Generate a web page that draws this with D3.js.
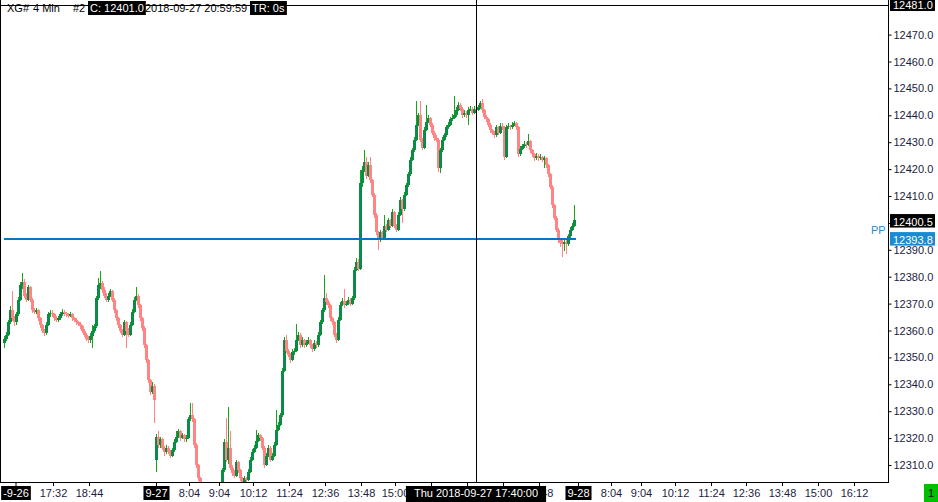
<!DOCTYPE html>
<html><head><meta charset="utf-8">
<script src="https://cdn.jsdelivr.net/npm/d3@7"></script>
<style>body{margin:0;background:#fff}svg{display:block;font-family:"Liberation Sans",Arial,sans-serif}</style>
</head><body><svg id="c" width="938" height="502"></svg>
<script>
const open=[12355.5,12357.0,12358.5,12363.0,12367.5,12364.5,12363.0,12366.0,12371.5,12377.0,
12378.0,12373.0,12371.5,12376.0,12371.5,12367.5,12367.0,12367.5,12364.5,12362.0,
12360.0,12359.0,12362.0,12366.0,12366.5,12366.0,12364.5,12364.0,12364.5,12366.0,
12367.0,12366.5,12366.0,12365.5,12366.0,12364.5,12364.0,12363.0,12362.5,12361.5,
12360.0,12358.5,12357.0,12356.5,12358.0,12360.0,12361.5,12372.0,12377.0,12377.5,
12375.0,12373.0,12371.5,12373.0,12374.5,12371.5,12367.5,12364.5,12362.0,12360.0,
12358.5,12363.0,12360.0,12358.5,12362.0,12367.0,12371.5,12373.0,12369.5,12364.5,
12361.0,12354.5,12349.0,12341.5,12337.0,12339.5,12312.0,12320.5,12317.5,12319.5,
12316.5,12315.0,12316.5,12315.0,12313.5,12315.5,12318.5,12320.5,12322.5,12320.0,
12321.0,12319.5,12320.0,12327.0,12328.5,12327.0,12317.5,12310.0,12305.0,12302.5,
12300.5,12299.0,12300.0,12301.5,12299.0,12297.5,12299.0,12300.5,12300.0,12302.5,
12308.0,12318.5,12312.0,12316.5,12309.0,12307.0,12306.0,12311.0,12308.0,12305.0,
12303.5,12305.0,12304.5,12307.5,12312.0,12315.0,12316.5,12319.0,12321.0,12320.0,
12316.5,12310.0,12313.5,12316.5,12312.0,12313.5,12317.5,12323.0,12325.0,12328.5,
12345.0,12356.5,12352.5,12351.0,12349.0,12352.0,12352.5,12356.5,12358.5,12354.5,
12356.5,12354.5,12355.5,12356.5,12354.5,12353.0,12355.5,12354.5,12358.5,12363.0,
12367.5,12372.0,12370.5,12369.5,12364.5,12363.0,12358.5,12356.5,12364.0,12369.5,
12371.0,12369.5,12370.0,12371.5,12370.0,12372.0,12382.5,12385.5,12383.0,12415.0,
12419.5,12422.5,12417.5,12421.5,12416.0,12410.5,12403.0,12396.5,12393.5,12396.5,
12394.5,12399.0,12397.5,12401.0,12399.0,12404.0,12399.0,12397.5,12403.0,12408.5,
12405.0,12410.5,12414.0,12418.0,12423.5,12427.0,12431.0,12436.5,12440.0,12431.0,
12428.0,12434.5,12437.5,12439.0,12436.5,12433.5,12431.5,12431.0,12420.5,12427.0,
12431.0,12432.5,12435.5,12436.5,12438.5,12439.0,12440.0,12442.0,12444.0,12442.5,
12440.0,12441.0,12440.0,12442.0,12442.5,12441.0,12442.5,12442.0,12443.0,12444.5,
12442.0,12439.5,12438.5,12436.5,12434.5,12433.5,12432.5,12435.5,12433.5,12436.0,
12435.5,12424.5,12435.5,12436.0,12435.5,12436.5,12437.0,12435.5,12425.5,12427.5,
12428.5,12429.5,12429.0,12430.5,12427.0,12425.5,12424.0,12425.0,12424.0,12424.5,
12423.5,12424.0,12421.5,12418.0,12413.5,12406.5,12402.0,12397.5,12393.5,12392.5,
12392.0,12393.0,12392.0,12395.0,12397.5,12399.0];
const high=[12358.0,12359.5,12364.0,12369.0,12374.5,12365.5,12367.0,12372.5,12378.0,12381.5,
12379.0,12374.0,12377.0,12376.5,12372.0,12368.5,12368.5,12368.0,12365.0,12362.5,
12360.5,12363.0,12367.0,12367.5,12367.5,12366.5,12365.5,12365.5,12367.0,12368.0,
12367.5,12367.0,12366.5,12367.0,12366.5,12365.0,12364.5,12363.5,12363.0,12362.0,
12360.5,12359.0,12358.0,12359.0,12362.0,12362.5,12373.0,12379.5,12382.0,12378.5,
12376.0,12374.0,12374.0,12375.5,12375.0,12372.0,12368.0,12365.0,12362.5,12360.5,
12364.0,12363.5,12361.0,12363.0,12368.0,12372.5,12376.0,12373.5,12370.0,12365.0,
12361.5,12355.0,12349.5,12342.0,12341.0,12340.0,12321.5,12322.5,12320.5,12320.0,
12317.0,12317.5,12317.0,12315.5,12316.5,12319.5,12322.5,12323.5,12323.0,12322.0,
12321.5,12321.0,12328.0,12333.0,12333.0,12327.5,12318.0,12310.5,12305.5,12303.0,
12301.0,12301.0,12302.5,12302.0,12299.5,12300.0,12301.5,12301.5,12303.5,12309.0,
12319.5,12327.5,12331.5,12322.5,12310.0,12308.0,12312.0,12311.5,12308.5,12305.5,
12306.0,12305.5,12308.5,12313.0,12316.0,12317.5,12323.0,12322.0,12321.5,12320.5,
12317.0,12314.5,12317.5,12317.0,12314.5,12318.5,12330.5,12326.0,12329.5,12346.0,
12357.5,12358.5,12353.0,12351.5,12353.0,12353.5,12362.5,12359.5,12359.0,12357.5,
12357.0,12356.5,12357.5,12357.0,12355.0,12356.5,12356.0,12359.5,12364.0,12368.5,
12380.5,12374.0,12371.5,12370.0,12365.0,12363.5,12359.0,12365.0,12370.5,12372.0,
12375.5,12371.0,12372.5,12372.0,12373.0,12383.5,12387.0,12386.5,12419.5,12421.0,
12427.0,12424.5,12422.5,12424.5,12416.5,12411.0,12403.5,12397.0,12397.5,12397.0,
12403.0,12399.5,12402.0,12401.5,12405.0,12404.5,12399.5,12404.0,12409.5,12409.0,
12411.5,12415.0,12419.0,12424.5,12428.0,12432.0,12445.5,12441.0,12445.5,12431.5,
12435.5,12444.0,12440.0,12439.5,12437.0,12434.0,12432.5,12431.5,12428.0,12432.0,
12433.5,12436.5,12437.5,12439.5,12440.5,12447.0,12443.0,12445.0,12444.5,12443.0,
12442.0,12441.5,12443.0,12443.5,12443.0,12443.5,12443.5,12444.0,12445.5,12446.0,
12442.5,12440.0,12439.0,12437.0,12435.0,12434.0,12436.5,12436.0,12437.0,12437.0,
12436.0,12436.5,12437.0,12436.5,12437.5,12438.0,12437.5,12436.0,12428.5,12429.5,
12430.5,12430.0,12433.0,12431.0,12427.5,12426.0,12426.0,12425.5,12425.5,12425.0,
12425.0,12424.5,12422.0,12418.5,12414.0,12407.0,12402.5,12398.0,12394.0,12394.0,
12394.0,12393.5,12396.0,12398.5,12400.0,12406.5];
const low=[12353.5,12356.0,12358.0,12362.5,12363.5,12361.5,12362.0,12365.5,12371.0,12375.5,
12372.0,12370.5,12371.0,12370.5,12366.5,12366.0,12366.0,12363.5,12361.0,12359.0,
12358.0,12358.5,12361.5,12365.0,12365.0,12363.5,12363.0,12363.0,12364.0,12365.5,
12365.5,12365.0,12364.5,12365.0,12363.5,12363.0,12362.0,12361.5,12360.5,12359.0,
12357.5,12356.0,12355.5,12355.5,12353.5,12359.0,12361.0,12371.5,12375.5,12374.0,
12372.0,12370.5,12370.5,12372.5,12370.5,12366.5,12363.5,12361.0,12359.0,12357.5,
12358.0,12353.5,12357.5,12358.0,12361.5,12366.5,12371.0,12368.5,12363.5,12360.0,
12353.5,12348.0,12340.5,12336.0,12336.5,12325.5,12307.5,12316.5,12316.5,12315.5,
12313.5,12314.0,12314.0,12312.5,12313.0,12315.0,12318.0,12320.0,12319.0,12319.5,
12318.5,12318.5,12319.5,12326.5,12326.0,12316.5,12309.0,12304.0,12301.5,12299.5,
12298.0,12298.5,12299.5,12298.0,12296.5,12297.0,12298.5,12299.0,12299.5,12302.0,
12307.5,12311.0,12310.5,12308.0,12306.0,12305.0,12305.5,12307.0,12304.0,12302.5,
12303.0,12303.5,12304.0,12307.0,12311.5,12314.5,12316.0,12318.5,12319.0,12315.5,
12309.0,12309.5,12313.0,12311.0,12311.5,12313.0,12317.0,12322.5,12324.5,12328.0,
12344.5,12351.5,12350.0,12348.0,12348.5,12351.0,12352.0,12356.0,12353.5,12354.0,
12353.5,12354.0,12355.0,12353.5,12352.0,12352.5,12353.5,12354.0,12358.0,12362.5,
12367.0,12369.5,12368.5,12363.5,12362.0,12357.5,12355.5,12356.0,12363.5,12369.0,
12368.5,12369.0,12369.5,12369.0,12369.5,12371.5,12382.0,12382.0,12382.5,12413.5,
12419.0,12416.5,12417.0,12415.0,12409.5,12402.0,12395.5,12390.0,12393.0,12393.5,
12394.0,12396.5,12397.0,12398.0,12398.5,12398.0,12396.5,12397.0,12402.5,12400.0,
12404.5,12410.0,12413.5,12417.5,12423.0,12426.5,12430.5,12436.0,12430.0,12427.0,
12427.5,12434.0,12437.0,12435.5,12432.5,12430.5,12430.0,12419.0,12418.5,12426.5,
12430.5,12432.0,12435.0,12436.0,12438.0,12438.5,12439.5,12441.5,12441.5,12439.0,
12439.5,12439.0,12436.5,12441.5,12440.0,12440.5,12441.0,12441.5,12442.5,12441.0,
12438.5,12437.5,12435.5,12433.5,12432.5,12431.5,12432.0,12432.5,12433.0,12434.5,
12423.5,12424.0,12435.0,12434.5,12435.0,12436.0,12434.5,12424.5,12425.0,12427.0,
12428.0,12428.0,12428.5,12426.0,12424.5,12423.0,12423.5,12423.0,12423.5,12422.5,
12420.5,12420.5,12417.0,12412.5,12405.5,12401.0,12396.5,12392.5,12391.0,12387.5,
12389.5,12388.5,12391.5,12394.5,12397.0,12398.5];
const close=[12357.0,12358.5,12363.0,12367.5,12364.5,12363.0,12366.0,12371.5,12377.0,12378.0,
12373.0,12371.5,12376.0,12371.5,12367.5,12367.0,12367.5,12364.5,12362.0,12360.0,
12359.0,12362.0,12366.0,12366.5,12366.0,12364.5,12364.0,12364.5,12366.0,12367.0,
12366.5,12366.0,12365.5,12366.0,12364.5,12364.0,12363.0,12362.5,12361.5,12360.0,
12358.5,12357.0,12356.5,12358.0,12360.0,12361.5,12372.0,12377.0,12377.5,12375.0,
12373.0,12371.5,12373.0,12374.5,12371.5,12367.5,12364.5,12362.0,12360.0,12358.5,
12363.0,12360.0,12358.5,12362.0,12367.0,12371.5,12373.0,12369.5,12364.5,12361.0,
12354.5,12349.0,12341.5,12337.0,12339.5,12334.0,12320.5,12317.5,12319.5,12316.5,
12315.0,12316.5,12315.0,12313.5,12315.5,12318.5,12320.5,12322.5,12320.0,12321.0,
12319.5,12320.0,12327.0,12328.5,12327.0,12317.5,12310.0,12305.0,12302.5,12300.5,
12299.0,12300.0,12301.5,12299.0,12297.5,12299.0,12300.5,12300.0,12302.5,12308.0,
12318.5,12312.0,12316.5,12309.0,12307.0,12306.0,12311.0,12308.0,12305.0,12303.5,
12305.0,12304.5,12307.5,12312.0,12315.0,12316.5,12319.0,12321.0,12320.0,12316.5,
12310.0,12313.5,12316.5,12312.0,12313.5,12317.5,12323.0,12325.0,12328.5,12345.0,
12356.5,12352.5,12351.0,12349.0,12352.0,12352.5,12356.5,12358.5,12354.5,12356.5,
12354.5,12355.5,12356.5,12354.5,12353.0,12355.5,12354.5,12358.5,12363.0,12367.5,
12372.0,12370.5,12369.5,12364.5,12363.0,12358.5,12356.5,12364.0,12369.5,12371.0,
12369.5,12370.0,12371.5,12370.0,12372.0,12382.5,12385.5,12383.0,12415.0,12419.5,
12422.5,12417.5,12421.5,12416.0,12410.5,12403.0,12396.5,12393.5,12396.5,12394.5,
12399.0,12397.5,12401.0,12399.0,12404.0,12399.0,12397.5,12403.0,12408.5,12405.0,
12410.5,12414.0,12418.0,12423.5,12427.0,12431.0,12436.5,12440.0,12431.0,12428.0,
12434.5,12437.5,12439.0,12436.5,12433.5,12431.5,12431.0,12420.5,12427.0,12431.0,
12432.5,12435.5,12436.5,12438.5,12439.0,12440.0,12442.0,12444.0,12442.5,12440.0,
12441.0,12440.0,12442.0,12442.5,12441.0,12442.5,12442.0,12443.0,12444.5,12442.0,
12439.5,12438.5,12436.5,12434.5,12433.5,12432.5,12435.5,12433.5,12436.0,12435.5,
12424.5,12435.5,12436.0,12435.5,12436.5,12437.0,12435.5,12425.5,12427.5,12428.5,
12429.5,12429.0,12430.5,12427.0,12425.5,12424.0,12425.0,12424.0,12424.5,12423.5,
12424.0,12421.5,12418.0,12413.5,12406.5,12402.0,12397.5,12393.5,12392.5,12392.0,
12393.0,12392.0,12395.0,12397.5,12399.0,12401.0];

const priceTicks=[12310,12320,12330,12340,12350,12360,12370,12380,12390,12400,12410,12420,12430,12440,12450,12460,12470];
const timeTickIdx=[5.75,24.5,42.5,76,92.5,107.5,124.5,142.5,160.5,178.5,195.5,213.5,231.5,249.5,267.5,287,303.5,318.5,335.5,353.5,371,389,407,425];
// labels fully covered by the crosshair time label are left empty (only their tick marks show)
const timeTickText=["-9-26","17:32","18:44","9-27","8:04","9:04","10:12","11:24","12:36","13:48","15:00","","","","19:48","9-28","8:04","9:04","10:12","11:24","12:36","13:48","15:00","16:12"];
const dateTicks=["-9-26","9-27","9-28"];
const pivotPrice=12393.8, lastPrice=12400.5, crossPrice=12481.0, crossIdx=236;
const crossTimeText="Thu 2018-09-27 17:40:00";
const headerParts=[{t:"XG#",bg:false,x:7},{t:"4 Min",bg:false,x:33},{t:"#2",bg:false,x:73},{t:"C: 12401.0",bg:true,x:90},{t:"2018-09-27 20:59:59",bg:false,x:145},{t:"TR: 0s",bg:true,x:252}];
const slotCount=442;

const svg=d3.select("#c");
const W=938,H=502, plotR=888, plotB=482;
const x=d3.scaleLinear().domain([0,slotCount]).range([4,plotR]);
const y=d3.scaleLinear().domain([12310,12470]).range([465,34.6]);
const bars=close.map((c,i)=>({i,o:open[i],h:Math.max(high[i],open[i],c),l:Math.min(low[i],open[i],c),c}));

svg.append("rect").attr("width",W).attr("height",H).attr("fill","#fff");
svg.append("defs").append("clipPath").attr("id","clip").append("rect").attr("x",1).attr("y",0).attr("width",plotR-1).attr("height",plotB);

const upBody="#0a8c48", upWick="#18a418", dn="#ff8484";
const pg=svg.append("g").attr("clip-path","url(#clip)").attr("shape-rendering","crispEdges");
const cg=pg.selectAll("g.c").data(bars).join("g");
cg.append("rect").attr("x",d=>Math.round(x(d.i))).attr("width",1)
  .attr("y",d=>y(d.h)).attr("height",d=>Math.max(1,y(d.l)-y(d.h)))
  .attr("fill",d=>d.c>=d.o?upWick:dn);
cg.append("rect").attr("x",d=>Math.round(x(d.i))-1).attr("width",3)
  .attr("y",d=>y(Math.max(d.o,d.c))).attr("height",d=>Math.max(1,Math.abs(y(d.o)-y(d.c))))
  .attr("fill",d=>d.c>=d.o?upBody:dn);

pg.append("line").attr("x1",x(0)).attr("x2",x(bars.length-1)+2)
  .attr("y1",y(pivotPrice)-0.6).attr("y2",y(pivotPrice)-0.6)
  .attr("stroke","#0b74bd").attr("stroke-width",2);

svg.append("line").attr("x1",Math.round(x(crossIdx))+0.5).attr("x2",Math.round(x(crossIdx))+0.5).attr("y1",0).attr("y2",plotB)
  .attr("stroke","#000").attr("stroke-width",1);
svg.append("line").attr("x1",0).attr("x2",plotR).attr("y1",Math.round(y(crossPrice))+0.5).attr("y2",Math.round(y(crossPrice))+0.5)
  .attr("stroke","#000").attr("stroke-width",1);

const fr=svg.append("g").attr("stroke","#000").attr("stroke-width",1).attr("shape-rendering","crispEdges");
fr.append("line").attr("x1",0.5).attr("x2",0.5).attr("y1",0).attr("y2",plotB);
fr.append("line").attr("x1",0).attr("x2",plotR+1).attr("y1",plotB+0.5).attr("y2",plotB+0.5);
fr.append("line").attr("x1",plotR+0.5).attr("x2",plotR+0.5).attr("y1",0).attr("y2",plotB+1);

const txtCol="#1c1c40";
const gy=svg.append("g").attr("transform",`translate(${plotR+0.5},0)`)
  .call(d3.axisRight(y).tickValues(priceTicks).tickFormat(d=>d.toFixed(1)).tickSize(3).tickPadding(2));
gy.select(".domain").remove();
gy.attr("font-size",11).attr("font-family","Liberation Sans, Arial, sans-serif");
gy.selectAll("line").attr("stroke","#000");
gy.selectAll("text").attr("fill",txtCol);

const gx=svg.append("g").attr("transform",`translate(0,${plotB})`)
  .call(d3.axisBottom(x).tickValues(timeTickIdx).tickFormat((d,i)=>timeTickText[i]).tickSize(4).tickPadding(3));
gx.select(".domain").remove();
gx.attr("font-size",11).attr("font-family","Liberation Sans, Arial, sans-serif");
gx.selectAll("line").attr("stroke","#000");
gx.selectAll("text").attr("fill",txtCol);
gx.selectAll(".tick").each(function(d,i){
  if(dateTicks.includes(timeTickText[i])){
    const t=d3.select(this).select("text").attr("fill","#fff");
    const b=t.node().getBBox();
    d3.select(this).insert("rect","text").attr("x",b.x-2).attr("y",4).attr("width",b.width+4).attr("height",14).attr("fill","#000");
  }
});

const ctg=svg.append("g");
const ctt=ctg.append("text").attr("x",x(crossIdx)).attr("y",plotB+15).attr("text-anchor","middle").attr("font-size",11).attr("fill","#fff").text(crossTimeText);
const cb=ctt.node().getBBox();
ctg.insert("rect","text").attr("x",cb.x-8).attr("y",plotB+4).attr("width",cb.width+16).attr("height",16).attr("fill","#000");

function priceLabel(v,bg,fg){
  const g=svg.append("g");
  g.append("rect").attr("x",plotR+2).attr("y",y(v)-7.5).attr("width",45).attr("height",13.5).attr("fill",bg);
  g.append("text").attr("x",plotR+5).attr("y",y(v)+4).attr("font-size",11).attr("fill",fg).text(v.toFixed(1));
}
priceLabel(crossPrice,"#000","#fff");
priceLabel(lastPrice,"#000","#fff");
priceLabel(pivotPrice,"#1b8ad0","#fff");
svg.append("text").attr("x",871).attr("y",y(pivotPrice)-5.5).attr("font-size",11).attr("fill","#2a8ad0").text("PP");

const hg=svg.append("g");
headerParts.forEach(p=>{
  const t=hg.append("text").attr("x",p.x).attr("y",12).attr("font-size",11).attr("fill",p.bg?"#fff":"#000").text(p.t);
  if(p.bg){const b=t.node().getBBox();hg.insert("rect","text").attr("x",b.x-2).attr("y",1).attr("width",b.width+4).attr("height",14).attr("fill","#000");}
});

svg.append("rect").attr("x",924).attr("y",484).attr("width",14).attr("height",18).attr("fill","#00c000");
svg.append("text").attr("x",931).attr("y",497).attr("text-anchor","middle").attr("font-size",11).attr("fill","#000").text("1");
</script></body></html>
